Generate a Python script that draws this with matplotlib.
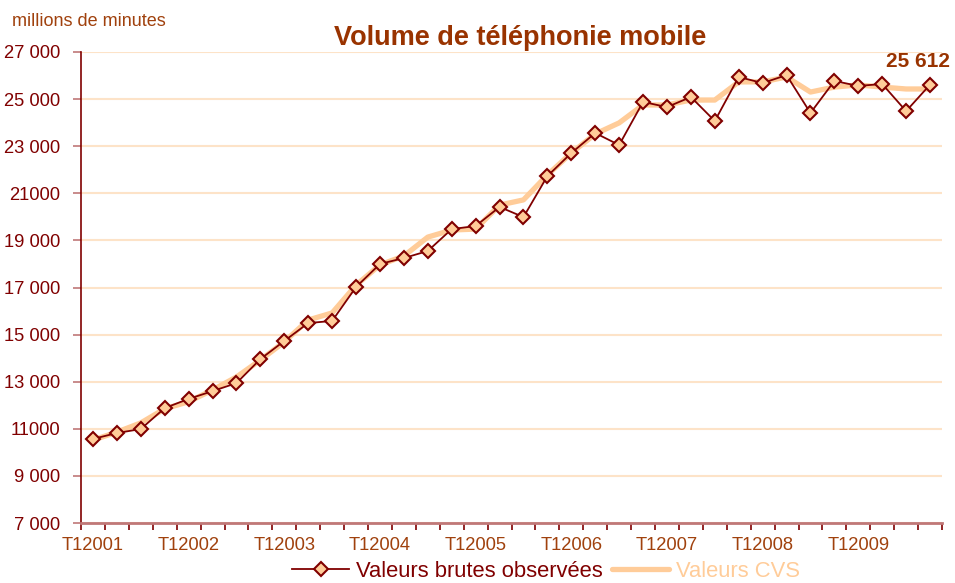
import matplotlib
matplotlib.use("Agg")
import matplotlib.pyplot as plt
from matplotlib.ticker import FixedLocator, NullFormatter

plt.rcParams['font.family'] = ['Liberation Sans', 'DejaVu Sans']

# ---- data ----
years = [2001, 2002, 2003, 2004, 2005, 2006, 2007, 2008, 2009]
quarters = [f"T{q}{y}" for y in years for q in (1, 2, 3, 4)]
xtick_labels = ["T12001", "T12002", "T12003", "T12004", "T12005",
                "T12006", "T12007", "T12008", "T12009"]

brutes = [10570, 10820, 10990, 11880, 12270, 12600, 12940, 13960,
          14730, 15490, 15580, 17020, 18000, 18250, 18550, 19480,
          19610, 20420, 19990, 21730, 22710, 23560, 23050, 24880,
          24660, 25090, 24070, 25940, 25680, 26020, 24410, 25770,
          25560, 25640, 24490, 25612]

cvs = [10520, 10860, 11250, 11850, 12150, 12650, 13200, 13920,
       14690, 15620, 15920, 17100, 17960, 18340, 19140, 19440,
       19480, 20500, 20720, 21780, 22710, 23520, 23990, 24750,
       24750, 24960, 24960, 25730, 25730, 25940, 25300, 25510,
       25600, 25510, 25430, 25430]

yticks = [7000, 9000, 11000, 13000, 15000, 17000, 19000, 21000, 23000, 25000, 27000]
ytick_labels = ["7 000", "9 000", "11000", "13 000", "15 000", "17 000",
                "19 000", "21000", "23 000", "25 000", "27 000"]

last_label = "25 612"

# ---- colours ----
DARK = "#800000"
BROWN = "#A0410D"
PEACH = "#FFCC99"
GRID = "#FDE3C8"
ROSY = "#C07878"

fig = plt.figure(figsize=(9.55, 5.83), dpi=100)
ax = fig.add_axes([81/955, 1 - 523/583, (942-81)/955, (523-52)/583])

x = list(range(len(quarters)))
ax.plot(x, cvs, color=PEACH, lw=3.8, solid_joinstyle='round',
        solid_capstyle='round', label="Valeurs CVS", zorder=2)
ax.plot(x, brutes, color=DARK, lw=1.3, marker='D', markersize=7.5,
        markerfacecolor=PEACH, markeredgecolor=DARK, markeredgewidth=1.5,
        label="Valeurs brutes observées", zorder=3)

ax.set_xlim(-0.5, len(quarters) - 0.5)
ax.set_ylim(7000, 27000)

ax.set_yticks(yticks)
ax.set_yticklabels(ytick_labels)
ax.tick_params(axis='y', direction='out', length=6, width=1.2, color=ROSY,
               labelcolor=DARK, labelsize=13.2, pad=9)

ax.set_xticks(x[::4])
ax.set_xticklabels(xtick_labels)
ax.tick_params(axis='x', which='major', length=0, labelcolor=BROWN,
               labelsize=13.2, pad=10)
ax.xaxis.set_minor_locator(FixedLocator([i - 0.5 for i in range(len(quarters) + 1)]))
ax.xaxis.set_minor_formatter(NullFormatter())
ax.tick_params(axis='x', which='minor', direction='out', length=5, width=1.2,
               color=DARK)

ax.grid(axis='y', color=GRID, lw=1.5, zorder=0)
ax.set_axisbelow(True)

for s in ('top', 'right'):
    ax.spines[s].set_visible(False)
ax.spines['left'].set_color(DARK)
ax.spines['left'].set_linewidth(1.2)
ax.spines['bottom'].set_color(ROSY)
ax.spines['bottom'].set_linewidth(2)

ax.annotate(last_label, xy=(x[-1], brutes[-1]), xytext=(-9, 17),
            textcoords='offset points', ha='center', va='center',
            fontsize=15, fontweight='bold', color="#993300")

fig.text(520/955, 1 - 38/583, "Volume de téléphonie mobile", ha='center',
         va='center', fontsize=19.5, fontweight='bold', color="#993300")
fig.text(12/955, 1 - 22/583, "millions de minutes", ha='left', va='center',
         fontsize=13, color=BROWN)

handles, labels = ax.get_legend_handles_labels()
leg = fig.legend(handles[::-1], labels[::-1], loc='lower center',
                 bbox_to_anchor=(546/955, 1/583), ncol=2, frameon=False,
                 fontsize=15.8, handlelength=2.6, handletextpad=0.3,
                 columnspacing=0.45, borderpad=0, borderaxespad=0)
for txt, col in zip(leg.get_texts(), [DARK, PEACH]):
    txt.set_color(col)

fig.savefig("out.png", dpi=100)
